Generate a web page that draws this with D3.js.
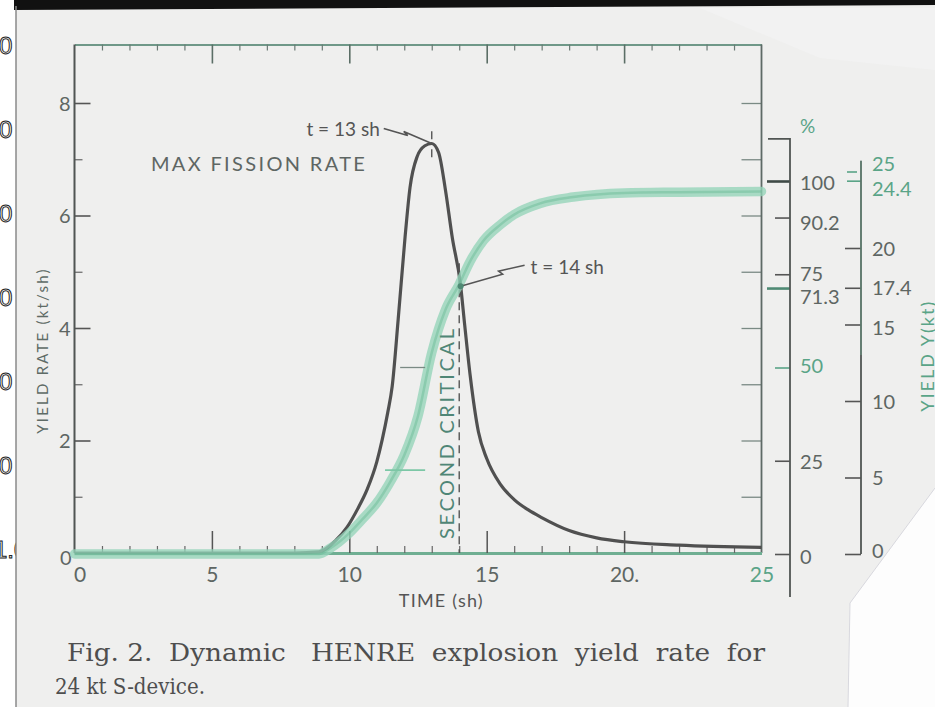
<!DOCTYPE html>
<html><head><meta charset="utf-8">
<script src="https://cdn.jsdelivr.net/npm/d3@7"></script>
<style>body{margin:0;background:#fff}svg{display:block}</style></head>
<body><svg id="c" width="935" height="707"></svg>
<script>
// ---- data ----
const tRate = [0, 8, 8.9, 9.5, 9.92, 10.3, 10.65, 11.0, 11.2, 11.4, 11.56, 11.78, 12.03, 12.21, 12.47, 12.75, 13.0, 13.25, 13.5, 13.75, 14.04, 14.2, 14.4, 14.7, 15.0, 15.5, 16.0, 16.5, 17.0, 18.0, 19.0, 20.0, 22.0, 25.0];
const rate  = [0, 0, 0.02, 0.22, 0.46, 0.78, 1.13, 1.62, 2.02, 2.5, 2.96, 4.16, 5.62, 6.5, 7.05, 7.24, 7.28, 7.12, 6.45, 5.6, 4.8, 4.05, 3.15, 2.15, 1.68, 1.22, 0.95, 0.77, 0.63, 0.4, 0.27, 0.2, 0.14, 0.1];
const tYield   = [0, 8.9, 9.3, 10.0, 10.5, 11.0, 11.5, 12.0, 12.5, 13.0, 13.5, 14.0, 14.4, 14.88, 15.5, 16.0, 16.95, 18.15, 20.0, 22.0, 25.0];
const yieldPct = [0, 0, 1.5, 5.6, 9.5, 13.7, 19.5, 26.5, 37.0, 54.0, 65.5, 72.3, 78.5, 84.0, 88.3, 91.0, 94.0, 95.7, 96.8, 97.0, 97.2];
const xMajor = [0, 5, 10, 15, 20, 25];
const xMinor = [1,2,3,4,6,7,8,9,11,12,13,14,16,17,18,19,21,22,23,24];
const rateMajor = [0, 2, 4, 6, 8];
const rateMinor = [1, 3, 5, 7];
const rateRight = [1, 2, 3, 4, 5, 6, 7, 8];
const pctTicks = [0, 25, 50, 71.3, 75, 90.2, 100];
const ktTicks = [0, 5, 10, 15, 17.4, 20, 24.4, 25];
const edgeDigits = ["0", "0", "0", "0", "0", "0", "1.0"];

// ---- styles ----
const FONT = "Lato, 'Open Sans', sans-serif";
const GRAY = "#5e6663", GREEN_TXT = "#5aa487", TEAL = "#4f8676";
const pctShift = {100: 1, 90.2: 5, 75: -1, 71.3: 8, 50: -2, 25: 1, 0: 2};
const ktShift = {25: -8, 24.4: 8, 15: 3, 0: -4};
const greenLabels = {x: [25], pct: [50], kt: [25, 24.4]};

const svg = d3.select("#c");
svg.append("rect").attr("width", 935).attr("height", 707).attr("fill", "#ffffff");
// edge artifacts from the adjacent page (covered by this page beyond x=16)
const edgeY = d3.scalePoint().domain(d3.range(edgeDigits.length)).range([45, 549]);
svg.selectAll("text.edge").data(edgeDigits).join("text").attr("class", "edge")
  .attr("x", (d, i) => d.length > 1 ? -6 : -1).attr("y", (d, i) => edgeY(i) + 9)
  .attr("font-family", "'Liberation Sans', sans-serif").attr("font-size", 24)
  .attr("fill", "#fff").attr("stroke", "#222").attr("stroke-width", 1).text(d => d);
// scanned page
svg.append("rect").attr("x", 16).attr("y", 5).attr("width", 919).attr("height", 702).attr("fill", "#efefee");
svg.append("path").attr("d", "M700,8 L935,8 L935,70 L820,58 Z").attr("fill", "#f2f2f2");
svg.append("path").attr("d", "M935,488 L850,603 L848,707 L935,707 Z").attr("fill", "#fdfdfd");
svg.append("path").attr("d", "M935,488 L850,603 L848,707").attr("fill", "none").attr("stroke", "#d8d8de").attr("stroke-width", 1);
svg.append("path").attr("d", "M14,0 L935,0 L935,5 L14,10 Z").attr("fill", "#111");
svg.append("line").attr("x1", 16).attr("x2", 16).attr("y1", 6).attr("y2", 707).attr("stroke", "#8a8a8a").attr("stroke-width", 1.5);

// ---- scales ----
const x = d3.scaleLinear().domain([0, 25]).range([74.5, 761.5]);
const yR = d3.scaleLinear().domain([0, 8]).range([553, 103]);
const yP = d3.scaleLinear().domain([0, 100]).range([554, 181]);
const yK = d3.scaleLinear().domain([0, 25]).range([554, 171.5]);
const topY = yR(9.04), bot = yR(0), leftX = x(0), rightX = x(25);

function styleTicks(g, color, w) {
  g.selectAll(".tick line").attr("stroke", color).attr("stroke-width", w);
  g.selectAll(".tick text").attr("font-family", FONT).attr("fill", GRAY);
}

// top border
const gT = svg.append("g").attr("transform", `translate(0,${topY})`);
gT.call(d3.axisTop(x).tickValues([5, 10, 15, 20]).tickSizeInner(-19).tickSizeOuter(0).tickFormat(""));
gT.select(".domain").attr("stroke", "#6f9888").attr("stroke-width", 2.2);
styleTicks(gT, "#5b6e66", 1.6);
const gT2 = svg.append("g").attr("transform", `translate(0,${topY})`);
gT2.call(d3.axisTop(x).tickValues(xMinor).tickSizeInner(-6).tickSizeOuter(0).tickFormat(""));
gT2.select(".domain").remove();
styleTicks(gT2, "#6a7a74", 1.2);

// right border of plot
const gRB = svg.append("g").attr("transform", `translate(${rightX},0)`);
gRB.call(d3.axisRight(yR).tickValues(rateRight).tickSizeInner(-20).tickSizeOuter(0).tickFormat(""));
gRB.select(".domain").remove();
styleTicks(gRB, "#7a8a84", 1.3);
svg.append("line").attr("x1", rightX).attr("x2", rightX).attr("y1", topY).attr("y2", bot)
  .attr("stroke", "#5e6a66").attr("stroke-width", 1.8);

// left axis
const gL = svg.append("g").attr("transform", `translate(${leftX},0)`);
gL.call(d3.axisLeft(yR).tickValues(rateMajor).tickSizeInner(-16).tickSizeOuter(0).tickPadding(4).tickFormat(d3.format("d")));
gL.select(".domain").remove();
styleTicks(gL, "#555", 1.6);
gL.selectAll(".tick text").attr("font-size", 20).attr("dy", d => d === 0 ? "0.55em" : "0.36em")
  .attr("x", d => d === 0 ? -3 : -4);
gL.selectAll(".tick").filter(d => d === 0).select("line").remove();
const gL2 = svg.append("g").attr("transform", `translate(${leftX},0)`);
gL2.call(d3.axisLeft(yR).tickValues(rateMinor).tickSizeInner(-8).tickSizeOuter(0).tickFormat(""));
gL2.select(".domain").remove();
styleTicks(gL2, "#666", 1.2);
svg.append("line").attr("x1", leftX).attr("x2", leftX).attr("y1", topY).attr("y2", bot)
  .attr("stroke", "#505553").attr("stroke-width", 2);

// bottom axis
const gB = svg.append("g").attr("transform", `translate(0,${bot})`);
gB.call(d3.axisBottom(x).tickValues(xMajor).tickSizeInner(-22).tickSizeOuter(0).tickPadding(14).tickFormat(d3.format("d")));
gB.select(".domain").attr("stroke", "#6fae92").attr("stroke-width", 3);
styleTicks(gB, "#555", 1.5);
gB.selectAll(".tick").filter(d => d === 0 || d === 25).select("line").remove();
gB.selectAll(".tick text").attr("font-size", 21).attr("x", d => d === 0 ? 5 : 0)
  .attr("fill", d => greenLabels.x.includes(d) ? GREEN_TXT : GRAY)
  .text(d => d === 20 ? "20." : d);
const gB2 = svg.append("g").attr("transform", `translate(0,${bot})`);
gB2.call(d3.axisBottom(x).tickValues(xMinor).tickSizeInner(-7).tickSizeOuter(0).tickFormat(""));
gB2.select(".domain").remove();
styleTicks(gB2, "#666", 1.2);

// % axis
const pX = 790;
const gP = svg.append("g").attr("transform", `translate(${pX},0)`);
gP.call(d3.axisRight(yP).tickValues(pctTicks).tickSizeInner(-15).tickSizeOuter(0).tickPadding(10).tickFormat(d3.format("")));
gP.select(".domain").remove();
styleTicks(gP, "#555", 1.6);
gP.selectAll(".tick").filter(d => d === 100 || d === 71.3).select("line").attr("x2", -23).attr("stroke-width", 2.6)
  .attr("stroke", d => d === 71.3 ? "#4f8a74" : "#3f4a46");
gP.selectAll(".tick").filter(d => d === 50).select("line").attr("stroke", "#5aa487");
gP.selectAll(".tick text").attr("font-size", 20)
  .attr("dy", d => (0.36 * 20 + (pctShift[d] || 0)) + "px")
  .attr("fill", d => greenLabels.pct.includes(d) ? GREEN_TXT : GRAY);
svg.append("path").attr("d", `M${pX - 22},${yP(111.3)} H${pX} V${yP(-11.5)}`)
  .attr("fill", "none").attr("stroke", "#505553").attr("stroke-width", 1.8);
svg.append("text").attr("x", pX + 10).attr("y", yP(114.7)).attr("font-family", FONT).attr("font-size", 19)
  .attr("fill", GREEN_TXT).attr("dy", "0.36em").text("%");

// kt axis
const kX = 861;
const gK = svg.append("g").attr("transform", `translate(${kX},0)`);
gK.call(d3.axisRight(yK).tickValues(ktTicks).tickSizeInner(-16).tickSizeOuter(0).tickPadding(11).tickFormat(d3.format("")));
gK.select(".domain").remove();
styleTicks(gK, "#555", 1.6);
gK.selectAll(".tick").filter(d => d === 25).select("line").attr("x1", -4).attr("x2", -14).attr("stroke", "#5aa487");
gK.selectAll(".tick").filter(d => d === 24.4).select("line").attr("x2", -14).attr("stroke", "#5aa487");
gK.selectAll(".tick text").attr("font-size", 20)
  .attr("dy", d => (0.36 * 20 + (ktShift[d] || 0)) + "px")
  .attr("fill", d => greenLabels.kt.includes(d) ? GREEN_TXT : GRAY);
svg.append("line").attr("x1", kX).attr("x2", kX).attr("y1", yK(25.7)).attr("y2", yK(0))
  .attr("stroke", "#505553").attr("stroke-width", 1.8);
svg.append("line").attr("x1", kX).attr("x2", kX).attr("y1", yK(25.7)).attr("y2", yK(13))
  .attr("stroke", "#6fae92").attr("stroke-width", 1.2).attr("opacity", 0.6);
svg.append("text").attr("transform", `translate(${kX + 73},${yK(9.3)}) rotate(-90)`)
  .attr("font-family", FONT).attr("font-size", 18).attr("letter-spacing", 2).attr("fill", GREEN_TXT)
  .text("YIELD Y(kt)");

// axis titles
svg.append("text").attr("transform", `translate(48,${yR(3.6)}) rotate(-90)`).attr("text-anchor", "middle")
  .attr("font-family", FONT).attr("font-size", 15).attr("letter-spacing", 2.2).attr("fill", "#5e6b66")
  .text("YIELD RATE (kt/sh)");
svg.append("text").attr("x", x(13.35)).attr("y", 607).attr("text-anchor", "middle")
  .attr("font-family", FONT).attr("font-size", 18).attr("letter-spacing", 1.2).attr("fill", "#555")
  .text("TIME (sh)");

// ---- curves ----
const lineRate = d3.line().x((d, i) => x(tRate[i])).y(d => yR(d)).curve(d3.curveMonotoneX);
const lineYield = d3.line().x((d, i) => x(tYield[i])).y(d => yP(d)).curve(d3.curveMonotoneX);
svg.append("path").attr("d", lineRate(rate)).attr("fill", "none").attr("stroke", "#505050")
  .attr("stroke-width", 3.2).attr("stroke-linejoin", "round");

// second critical dashed line & peak marker
svg.append("line").attr("x1", x(14)).attr("x2", x(14)).attr("y1", yR(5.15)).attr("y2", bot)
  .attr("stroke", "#555").attr("stroke-width", 1.4).attr("stroke-dasharray", "8,5");
svg.append("line").attr("x1", x(13)).attr("x2", x(13)).attr("y1", yR(7.5)).attr("y2", yR(6.95))
  .attr("stroke", "#555").attr("stroke-width", 1.4).attr("stroke-dasharray", "8,10");

svg.append("path").attr("d", lineYield(yieldPct)).attr("fill", "none").attr("stroke", "#94d4b8")
  .attr("stroke-width", 9.5).attr("stroke-linecap", "round").attr("opacity", 0.78);
svg.append("path").attr("d", lineYield(yieldPct)).attr("fill", "none").attr("stroke", "#5fb58f")
  .attr("stroke-width", 2.5).attr("opacity", 0.4);

// small reference marks
svg.append("line").attr("x1", x(11.85)).attr("x2", x(12.76)).attr("y1", yP(50)).attr("y2", yP(50))
  .attr("stroke", "#7a8a84").attr("stroke-width", 1.3);
svg.append("line").attr("x1", x(11.3)).attr("x2", x(12.76)).attr("y1", yP(22.5)).attr("y2", yP(22.5))
  .attr("stroke", "#7cc7a6").attr("stroke-width", 1.6);

// ---- annotations ----
const pk = [x(13), yR(7.28)];
svg.append("path").attr("d", `M${pk[0] - 48},${pk[1] - 15} L${pk[0] - 24},${pk[1] - 8} L${pk[0] - 28},${pk[1] - 12} L${pk[0]},${pk[1]}`)
  .attr("fill", "none").attr("stroke", "#555").attr("stroke-width", 1.6);
svg.append("text").attr("x", pk[0] - 52).attr("y", pk[1] - 8).attr("text-anchor", "end")
  .attr("font-family", FONT).attr("font-size", 19).attr("fill", "#555").text("t = 13 sh");
svg.append("text").attr("x", x(2.78)).attr("y", yR(6.8)).attr("font-family", FONT).attr("font-size", 20)
  .attr("fill", "#5e6663").attr("textLength", 214).attr("lengthAdjust", "spacing").text("MAX FISSION RATE");
const c14 = [x(14.05), yP(71.8)];
svg.append("path").attr("d", `M${c14[0]},${c14[1]} L${c14[0] + 42},${c14[1] - 12} L${c14[0] + 38},${c14[1] - 15} L${c14[0] + 64},${c14[1] - 21}`)
  .attr("fill", "none").attr("stroke", "#555").attr("stroke-width", 1.6);
svg.append("circle").attr("cx", c14[0]).attr("cy", c14[1]).attr("r", 3).attr("fill", "#4f8a74");
svg.append("text").attr("x", c14[0] + 70).attr("y", c14[1] - 12).attr("font-family", FONT).attr("font-size", 19)
  .attr("fill", "#555").text("t = 14 sh");
svg.append("text").attr("transform", `translate(${x(14) - 5},${bot - 14}) rotate(-90)`)
  .attr("font-family", FONT).attr("font-size", 20).attr("fill", TEAL)
  .attr("textLength", 210).attr("lengthAdjust", "spacing").text("SECOND CRITICAL");

// ---- caption ----
svg.append("text").attr("x", 67).attr("y", 661).attr("font-family", "'DejaVu Serif', serif").attr("font-size", 24)
  .attr("fill", "#4e4e4e").attr("textLength", 698).attr("lengthAdjust", "spacingAndGlyphs")
  .attr("xml:space", "preserve").text("Fig. 2.  Dynamic   HENRE  explosion  yield  rate  for");
svg.append("text").attr("x", 55).attr("y", 694).attr("font-family", "'DejaVu Serif', serif").attr("font-size", 22)
  .attr("fill", "#4e4e4e").attr("textLength", 150).attr("lengthAdjust", "spacingAndGlyphs").text("24 kt S-device.");
</script></body></html>
